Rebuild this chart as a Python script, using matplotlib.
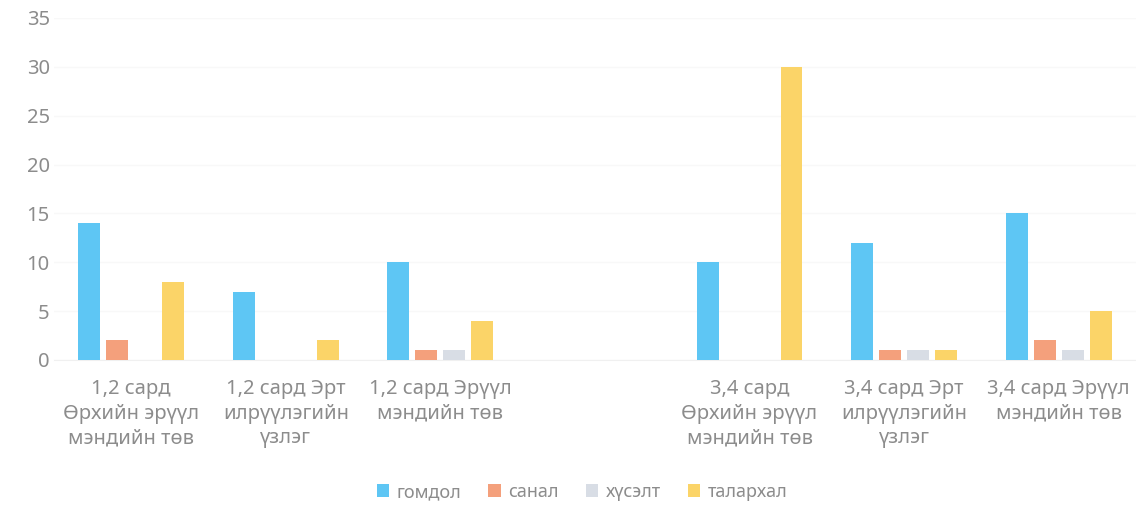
import matplotlib.pyplot as plt
import numpy as np

categories = [
    "1,2 сард\nӨрхийн эрүүл\nмэндийн төв",
    "1,2 сард Эрт\nилрүүлэгийн\nүзлэг",
    "1,2 сард Эрүүл\nмэндийн төв",
    "",
    "3,4 сард\nӨрхийн эрүүл\nмэндийн төв",
    "3,4 сард Эрт\nилрүүлэгийн\nүзлэг",
    "3,4 сард Эрүүл\nмэндийн төв",
]
series_names = ["гомдол", "санал", "хүсэлт", "талархал"]
gomdol = [14, 7, 10, 0, 10, 12, 15]
sanal = [2, 0, 1, 0, 0, 1, 2]
khuselt = [0, 0, 1, 0, 0, 1, 1]
talarkhal = [8, 2, 4, 0, 30, 1, 5]
colors = ["#5ec6f4", "#f4a07c", "#d8dde5", "#fbd468"]

plt.rcParams['font.family'] = ['Noto Sans', 'DejaVu Sans']

fig = plt.figure(figsize=(11.36, 5.11), dpi=100)
ax = fig.add_axes([0.0475, 0.2955, 0.9525, 0.6693])

x = np.arange(len(categories))
step = 0.181
width = 0.142
for i, (vals, name, c) in enumerate(zip([gomdol, sanal, khuselt, talarkhal], series_names, colors)):
    ax.bar(x + (i - 1.5) * step, vals, width, color=c, label=name, zorder=3)

ax.set_xlim(-0.5, len(categories) - 0.5)
ax.set_ylim(0, 35)
ax.set_yticks(range(0, 36, 5))
ax.grid(axis='y', color='#f8f8f8', linewidth=1, zorder=0)
for s in ['top', 'right', 'left']:
    ax.spines[s].set_visible(False)
ax.spines['bottom'].set_color('#f0f0f0')
ax.tick_params(axis='both', length=0, colors='#8c8c8c', labelsize=14.5)
ax.tick_params(axis='y', pad=3)
ax.tick_params(axis='x', pad=14)
ax.set_xticks(x)
ax.set_xticklabels(categories, linespacing=1.3)

ax.legend(loc='center', bbox_to_anchor=(0.488, -0.386), ncol=4, frameon=False,
          fontsize=13, labelcolor='#8c8c8c', handlelength=0.7, handleheight=0.7,
          handletextpad=0.4, columnspacing=1.5)

fig.savefig('out.png', dpi=100)
